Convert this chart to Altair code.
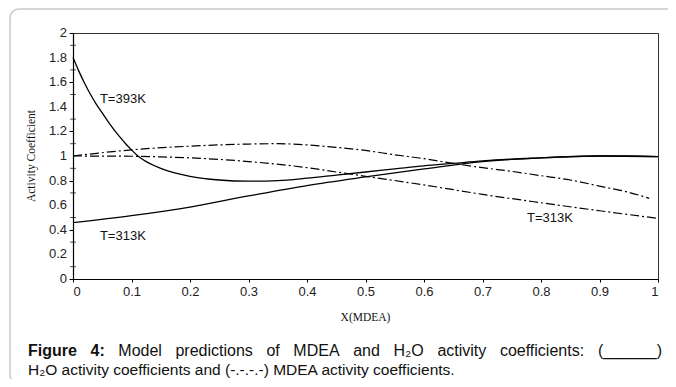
import altair as alt
import pandas as pd

# ---- data ----
h2o_393_x = [0, 0.01, 0.02, 0.03, 0.04, 0.05, 0.06, 0.07, 0.08, 0.09, 0.10, 0.11, 0.12,
             0.15, 0.2, 0.25, 0.3, 0.35, 0.4, 0.45, 0.5, 0.55, 0.6, 0.65, 0.7, 0.75,
             0.8, 0.85, 0.9, 0.95, 1.0]
h2o_393_y = [1.80, 1.69, 1.59, 1.50, 1.42, 1.35, 1.28, 1.215, 1.155, 1.10, 1.05, 1.005, 0.97,
             0.90, 0.835, 0.805, 0.795, 0.80, 0.82, 0.845, 0.87, 0.895, 0.92, 0.94, 0.96, 0.975,
             0.985, 0.995, 1.0, 1.0, 0.995]

h2o_313_x = [0, 0.1, 0.2, 0.3, 0.4, 0.5, 0.6, 0.7, 0.8, 0.9, 1.0]
h2o_313_y = [0.458, 0.515, 0.585, 0.675, 0.76, 0.83, 0.895, 0.955, 0.985, 1.0, 0.995]

mdea_393_x = [0, 0.1, 0.2, 0.3, 0.35, 0.4, 0.45, 0.5, 0.55, 0.6, 0.65, 0.7, 0.75,
              0.8, 0.85, 0.9, 0.95, 0.985]
mdea_393_y = [1.0, 1.05, 1.08, 1.097, 1.10, 1.09, 1.07, 1.045, 1.01, 0.978, 0.94, 0.905, 0.875,
              0.84, 0.805, 0.755, 0.705, 0.656]

mdea_313_x = [0, 0.1, 0.15, 0.2, 0.3, 0.4, 0.45, 0.5, 0.6, 0.7, 0.8, 0.9, 1.0]
mdea_313_y = [1.0, 0.998, 0.993, 0.985, 0.955, 0.905, 0.87, 0.835, 0.765, 0.688, 0.62, 0.555, 0.493]

label_text = ["T=393K", "T=313K", "T=313K"]
label_x = [0.046, 0.046, 0.776]
label_y = [1.46, 0.352, 0.493]

x_ticks = [round(i * 0.1, 1) for i in range(11)]
y_major = [round(i * 0.2, 1) for i in range(11)]
y_major_labels = ["0", "0.2", "0.4", "0.6", "0.8", "1", "1.2", "1.4", "1.6", "1.8", "2"]
y_minor = [round(0.1 + i * 0.2, 1) for i in range(10)]

x_title = "X(MDEA)"
y_title = "Activity Coefficient"
caption_words = ["Figure", "4:", "Model", "predictions", "of", "MDEA", "and",
                 "H\u2082O", "activity", "coefficients:", "(______)"]
caption_bold_count = 2
caption_line2 = "H\u2082O activity coefficients and (-.-.-.-) MDEA activity coefficients."

# ---- tables ----
def frame(name, xs, ys):
    return pd.DataFrame({"series": name, "x": xs, "y": ys})

solid_df = pd.concat([frame("H2O 393K", h2o_393_x, h2o_393_y),
                      frame("H2O 313K", h2o_313_x, h2o_313_y)])
dash_df = pd.concat([frame("MDEA 393K", mdea_393_x, mdea_393_y),
                     frame("MDEA 313K", mdea_313_x, mdea_313_y)])
labels_df = pd.DataFrame({"t": label_text, "x": label_x, "y": label_y})
minor_df = pd.DataFrame({"v": y_minor})
ylab_df = pd.DataFrame({"v": y_major, "t": y_major_labels})

W, H = 585, 246
OX = 73  # page x of the plot origin
FONT = "Liberation Sans"
SERIF = "Liberation Serif"
CAP_SIZE = 16
CAP2_SIZE = 15.5

# justified first caption line (left edge page x 28, right edge page x 662)
REG = {"(": 333, ")": 333, "_": 556, ":": 278, ".": 278, "-": 333, "M": 833, "D": 722,
       "E": 667, "A": 667, "H": 722, "O": 778, "a": 556, "c": 500, "d": 556, "e": 556,
       "f": 278, "i": 222, "l": 222, "n": 556, "o": 556, "p": 556, "r": 333, "s": 500,
       "t": 278, "v": 500, "y": 500, "\u2082": 400}
BOLD = {"F": 611, "i": 278, "g": 611, "u": 611, "r": 389, "e": 556, "4": 556, ":": 333}


def wlen(word, bold):
    table = BOLD if bold else REG
    return sum(table.get(ch, 556) for ch in word) * CAP_SIZE / 1000.0


cap_left, cap_right = 28 - OX, 662 - OX
widths = [wlen(w, i < caption_bold_count) for i, w in enumerate(caption_words)]
gap = (cap_right - cap_left - sum(widths)) / (len(caption_words) - 1)
word_x = []
pos = cap_left
for wdt in widths:
    word_x.append(pos)
    pos += wdt + gap
words_df = pd.DataFrame({"t": caption_words, "px": word_x,
                         "bold": [i < caption_bold_count for i in range(len(caption_words))]})

xscale = alt.Scale(domain=[0, 1], nice=False, zero=False)
yscale = alt.Scale(domain=[0, 2], nice=False, zero=False)

x_axis = alt.Axis(values=x_ticks, title=None, grid=False, tickSize=3, labelPadding=3,
                  labelOverlap=False,
                  labelExpr="toString(round(datum.value*10)/10)")
y_axis = alt.Axis(values=y_major, title=None, grid=False, tickSize=4, labels=False)

one = pd.DataFrame({"k": [0]})

border = alt.Chart(one).mark_rect(
    fillOpacity=0, stroke="#c8c8c8", strokeWidth=1.5, cornerRadius=9
).encode(x=alt.value(-63), x2=alt.value(700), y=alt.value(-24), y2=alt.value(351))

solid = alt.Chart(solid_df).mark_line(
    color="black", strokeWidth=1.3, interpolate="monotone"
).encode(
    x=alt.X("x:Q", scale=xscale, axis=x_axis),
    y=alt.Y("y:Q", scale=yscale, axis=y_axis),
    detail="series:N",
)

dash = alt.Chart(dash_df).mark_line(
    color="black", strokeWidth=1.2, interpolate="monotone", strokeDash=[9, 3, 2, 3]
).encode(
    x=alt.X("x:Q", scale=xscale),
    y=alt.Y("y:Q", scale=yscale),
    detail="series:N",
)

minor = alt.Chart(minor_df).mark_tick(
    orient="horizontal", size=6, thickness=1, color="black"
).encode(y=alt.Y("v:Q", scale=yscale), x=alt.value(0))

ylabels = alt.Chart(ylab_df).mark_text(
    align="right", baseline="middle", font=FONT, fontSize=13, color="#222"
).encode(y=alt.Y("v:Q", scale=yscale), x=alt.value(-6), text="t:N")

labels = alt.Chart(labels_df).mark_text(
    align="left", baseline="middle", font=FONT, fontSize=13, color="#111"
).encode(x=alt.X("x:Q", scale=xscale), y=alt.Y("y:Q", scale=yscale), text="t:N")


def txt(s, x, y, **kw):
    return alt.Chart(pd.DataFrame({"t": [s]})).mark_text(**kw).encode(
        x=alt.value(x), y=alt.value(y), text="t:N")


ytitle = txt(y_title, -41, 123, angle=270, align="center", baseline="middle",
             font=SERIF, fontSize=11.5, color="#111")
xtitle = txt(x_title, W / 2, 285, align="center", baseline="middle",
             font=SERIF, fontSize=11.5, color="#111")

cap_bold = alt.Chart(words_df).transform_filter("datum.bold").mark_text(
    align="left", baseline="alphabetic", font=FONT, fontSize=CAP_SIZE,
    fontWeight="bold", color="#111"
).encode(x=alt.X("px:Q", scale=None), y=alt.value(323), text="t:N")
cap_reg = alt.Chart(words_df).transform_filter("!datum.bold").mark_text(
    align="left", baseline="alphabetic", font=FONT, fontSize=CAP_SIZE, color="#111"
).encode(x=alt.X("px:Q", scale=None), y=alt.value(323), text="t:N")
cap_2 = txt(caption_line2, cap_left, 342, align="left", baseline="alphabetic",
            font=FONT, fontSize=CAP2_SIZE, color="#111")

chart = alt.layer(border, solid, dash, minor, ylabels, labels, ytitle, xtitle,
                  cap_bold, cap_reg, cap_2).properties(
    width=W, height=H,
    autosize=alt.AutoSizeParams(type="none"),
    padding={"left": 65, "top": 25, "right": 10, "bottom": 100},
).configure_view(stroke="#333", strokeWidth=1).configure_axis(
    domainColor="black", tickColor="black", labelFont=FONT, labelFontSize=13,
    labelColor="#222", domainWidth=1.2,
)

chart.save("out.html", embed_options={"renderer": "svg", "actions": False})
